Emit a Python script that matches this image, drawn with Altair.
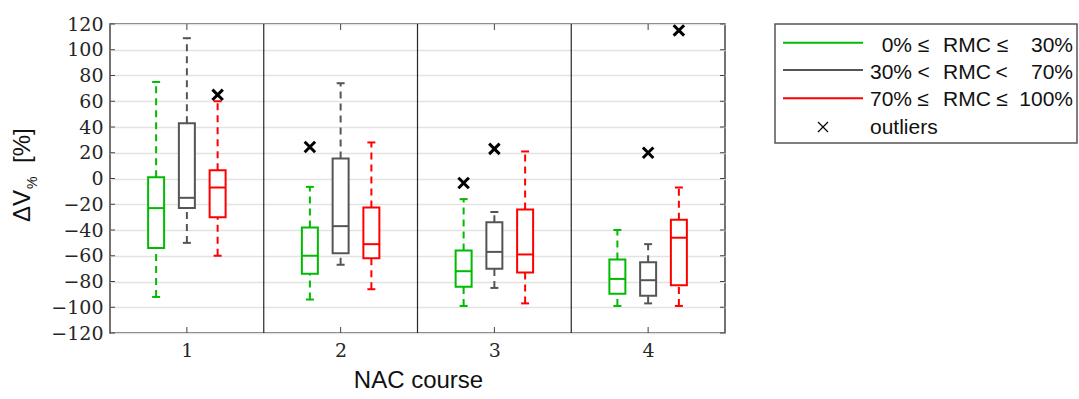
import altair as alt
import pandas as pd

# ---------------- data ----------------
courses = [1, 2, 3, 4]
group_names = ["g0_30", "g30_70", "g70_100"]
group_colors = ["#00bb00", "#555555", "#ff0000"]

# green: 0% <= RMC <= 30%
g1_lo = [-92, -94, -99, -99]
g1_q1 = [-54, -74, -84, -89.5]
g1_med = [-23, -60, -72, -78]
g1_q3 = [1, -38, -56, -63]
g1_hi = [75, -6.5, -16, -40]

# gray: 30% < RMC < 70%
g2_lo = [-50, -67, -85, -97]
g2_q1 = [-23, -58, -70, -91]
g2_med = [-15, -37, -57, -79]
g2_q3 = [43, 15.5, -34, -65]
g2_hi = [109, 74, -26, -51]

# red: 70% <= RMC <= 100%
g3_lo = [-60, -86, -97, -99]
g3_q1 = [-30, -62, -73, -83]
g3_med = [-7, -51, -59, -46]
g3_q3 = [6.5, -22.5, -24, -32]
g3_hi = [60, 28, 21, -7]

out_course = [1, 2, 3, 3, 4, 4]
out_group = ["g70_100", "g0_30", "g0_30", "g30_70", "g30_70", "g70_100"]
out_value = [65, 24.5, -3.5, 23, 20, 115]

y_tick_values = list(range(-120, 121, 20))
separators = [1.5, 2.5, 3.5]

# ---------------- tables ----------------
rows = []
stats = {
    "g0_30": (g1_lo, g1_q1, g1_med, g1_q3, g1_hi),
    "g30_70": (g2_lo, g2_q1, g2_med, g2_q3, g2_hi),
    "g70_100": (g3_lo, g3_q1, g3_med, g3_q3, g3_hi),
}
for g in group_names:
    lo, q1, md, q3, hi = stats[g]
    for i, c in enumerate(courses):
        rows.append(dict(course=c, group=g, lo=lo[i], q1=q1[i], med=md[i], q3=q3[i], hi=hi[i]))
box_df = pd.DataFrame(rows)
out_df = pd.DataFrame(dict(course=out_course, group=out_group, value=out_value))
ytick_df = pd.DataFrame(dict(v=y_tick_values))
xtick_df = pd.DataFrame(dict(c=courses))
sep_df = pd.DataFrame(dict(s=separators))
one = pd.DataFrame(dict(k=[0]))

W, H = 615, 309
offset_expr = "datum.course + (datum.group == 'g0_30' ? -0.2 : (datum.group == 'g70_100' ? 0.2 : 0))"

SERIF = "DejaVu Serif"
SANS = "Liberation Sans"

xs = alt.Scale(domain=[0.5, 4.5], nice=False, zero=False)
ys = alt.Scale(domain=[-120, 120], nice=False, zero=False)
col = alt.Scale(domain=group_names, range=group_colors)

XAX = alt.Axis(values=courses, format="d", grid=False, ticks=False, tickSize=0, domain=False,
               labelFont=SERIF, labelFontSize=19, labelColor="#262626", labelPadding=8, title=None)
YAX = alt.Axis(values=y_tick_values, grid=True, gridColor="#e3e3e3", gridWidth=1.5, ticks=False, tickSize=0,
               domain=False, labelFont=SERIF, labelFontSize=19, labelColor="#262626", labelPadding=7, title=None)


def X(f):
    return alt.X(f, scale=xs, axis=XAX)


def Y(f):
    return alt.Y(f, scale=ys, axis=YAX)


COLOR = alt.Color("group:N", scale=col, legend=None)

base = alt.Chart(box_df).transform_calculate(pos=offset_expr).transform_calculate(
    left="datum.pos - 0.052", right="datum.pos + 0.052",
    capl="datum.pos - 0.026", capr="datum.pos + 0.026",
)

seps = alt.Chart(sep_df).mark_rule(color="#262626", strokeWidth=1.2).encode(
    x=X("s:Q"), y=alt.value(0), y2=alt.value(H)
)

whisk_hi = base.mark_rule(strokeWidth=2, strokeDash=[7, 5]).encode(
    x=X("pos:Q"), y=Y("q3:Q"), y2="hi:Q", color=COLOR)
whisk_lo = base.mark_rule(strokeWidth=2, strokeDash=[7, 5]).encode(
    x=X("pos:Q"), y=Y("lo:Q"), y2="q1:Q", color=COLOR)
cap_hi = base.mark_rule(strokeWidth=2).encode(
    x=X("capl:Q"), x2="capr:Q", y=Y("hi:Q"), color=COLOR)
cap_lo = base.mark_rule(strokeWidth=2).encode(
    x=X("capl:Q"), x2="capr:Q", y=Y("lo:Q"), color=COLOR)
boxes = base.mark_rect(fill="white", strokeWidth=2).encode(
    x=X("left:Q"), x2="right:Q", y=Y("q1:Q"), y2="q3:Q",
    stroke=alt.Stroke("group:N", scale=col, legend=None))
medians = base.mark_rule(strokeWidth=2).encode(
    x=X("left:Q"), x2="right:Q", y=Y("med:Q"), color=COLOR)
XPATH = "M-1,-1L1,1M1,-1L-1,1"
outliers = alt.Chart(out_df).transform_calculate(pos=offset_expr).mark_point(
    shape=XPATH, filled=False, color="black", strokeWidth=3, size=110, opacity=1
).encode(x=X("pos:Q"), y=Y("value:Q"))

# inward ticks
TK = 5
tick_l = alt.Chart(ytick_df).mark_rule(color="#444", strokeWidth=1).encode(
    x=alt.value(0), x2=alt.value(TK), y=Y("v:Q"))
tick_r = alt.Chart(ytick_df).mark_rule(color="#444", strokeWidth=1).encode(
    x=alt.value(W - TK), x2=alt.value(W), y=Y("v:Q"))
tick_b = alt.Chart(xtick_df).mark_rule(color="#444", strokeWidth=1).encode(
    x=X("c:Q"), y=alt.value(H - 6), y2=alt.value(H))
tick_t = alt.Chart(xtick_df).mark_rule(color="#444", strokeWidth=1).encode(
    x=X("c:Q"), y=alt.value(0), y2=alt.value(6))


def txt(s, x, y, size=24, align="left", baseline="alphabetic", angle=0, font=SANS):
    kw = dict(text=s, fontSize=size, font=font, align=align, baseline=baseline, color="#111")
    if angle:
        kw["angle"] = angle
    return alt.Chart(one).mark_text(**kw).encode(x=alt.value(x), y=alt.value(y))


title_layers = [
    txt("NAC course", 308.5, 364, size=24, align="center"),
    txt("ΔV", -80, 198, size=24, angle=270),
    txt("%", -73, 165, size=14, angle=270),
    txt("[%]", -80, 139, size=24, angle=270),
]

# legend
LX0, LX1, LY0, LY1 = 665, 967, 0, 119
legend_box = alt.Chart(one).mark_rect(fill="white", stroke="#555", strokeWidth=1.5).encode(
    x=alt.value(LX0), x2=alt.value(LX1), y=alt.value(LY0), y2=alt.value(LY1))
legend_layers = [legend_box]
row_y_line = [18.7, 46, 74.3]
row_y_text = [27.5, 55, 81.5]
for i, c in enumerate(group_colors):
    legend_layers.append(alt.Chart(one).mark_rule(color=c, strokeWidth=2).encode(
        x=alt.value(673), x2=alt.value(753), y=alt.value(row_y_line[i])))
LF = 21
pieces = [
    [("0%", 802, "right"), ("≤", 813.5, "center"), ("RMC", 857, "center"), ("≤", 892.5, "center"), ("30%", 963, "right")],
    [("30%", 802, "right"), ("<", 813.5, "center"), ("RMC", 857, "center"), ("<", 891.5, "center"), ("70%", 963, "right")],
    [("70%", 802, "right"), ("≤", 813, "center"), ("RMC", 857, "center"), ("≤", 892, "center"), ("100%", 963, "right")],
]
for i, row in enumerate(pieces):
    for s, x, a in row:
        legend_layers.append(txt(s, x, row_y_text[i], size=LF, align=a))
legend_layers.append(alt.Chart(one).mark_point(shape=XPATH, filled=False, color="black", strokeWidth=1.2,
                                               size=100, opacity=1).encode(x=alt.value(713), y=alt.value(103)))
legend_layers.append(txt("outliers", 760, 110, size=LF, align="left"))

chart = alt.layer(
    seps, whisk_hi, whisk_lo, cap_hi, cap_lo, boxes, medians, outliers,
    tick_l, tick_r, tick_b, tick_t, *title_layers, *legend_layers
).properties(
    width=W, height=H,
    autosize=alt.AutoSizeParams(type="none"),
    padding={"left": 110, "top": 24, "right": 1079 - 110 - W, "bottom": 399 - 24 - H},
    background="white",
).configure_view(
    stroke="#444", strokeWidth=1.5
).configure_axis(
    labelFont=SERIF, labelFontSize=19, labelColor="#262626"
)

chart.save("out.html", embed_options={"renderer": "svg", "actions": False})
